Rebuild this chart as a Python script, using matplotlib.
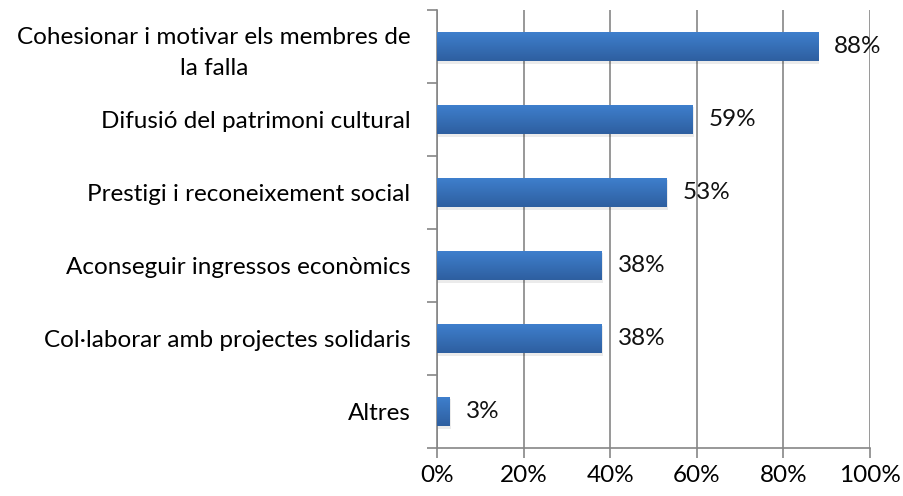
import matplotlib
matplotlib.use("Agg")
import matplotlib.pyplot as plt
import numpy as np

labels = [
    "Cohesionar i motivar els membres de\nla falla",
    "Difusió del patrimoni cultural",
    "Prestigi i reconeixement social",
    "Aconseguir ingressos econòmics",
    "Col·laborar amb projectes solidaris",
    "Altres",
]
values = [88, 59, 53, 38, 38, 3]
xticks = [0, 20, 40, 60, 80, 100]

plt.rcParams["font.family"] = ["Lato", "DejaVu Sans"]

GRID = "#868686"
TOP = np.array([0x3f, 0x80, 0xce]) / 255
BOT = np.array([0x2e, 0x5f, 0xa0]) / 255
FS = 17.5

fig = plt.figure(figsize=(9.04, 4.96), dpi=100)
ax = fig.add_axes([437 / 904, 48 / 496, 433 / 904, 438 / 496])

n = len(values)
ypos = np.arange(n)[::-1]
bars = ax.barh(ypos, values, height=0.41, color="#3a78c4", zorder=3)

# vertical gradient + soft shadow, like the office chart style
grad = np.linspace(0, 1, 64)[:, None, None] * (BOT - TOP) + TOP
for b in bars:
    x0, y0 = b.get_x(), b.get_y()
    w, h = b.get_width(), b.get_height()
    ax.add_patch(plt.Rectangle((x0 + 0.3, y0 - 0.04), w, h, color="#000000",
                               alpha=0.08, lw=0, zorder=2))
    im = ax.imshow(grad, extent=(x0, x0 + w, y0, y0 + h), aspect="auto",
                   origin="upper", zorder=4)
    im.set_clip_path(b)

for y, v in zip(ypos, values):
    ax.text(v + 3.7, y, f"{v}%", va="center", ha="left", fontsize=FS,
            color="#111111", zorder=5)

ax.set_xlim(0, 100)
ax.set_ylim(-0.5, n - 0.5)
ax.set_xticks(xticks)
ax.set_xticklabels([f"{t}%" for t in xticks], fontsize=FS)
ax.set_yticks(ypos)
ax.set_yticklabels(labels, fontsize=FS)
for t in ax.get_yticklabels():
    t.set_multialignment("center")
    t.set_linespacing(1.55)
ax.set_yticks(np.arange(-0.5, n, 1.0), minor=True)
ax.tick_params(axis="y", which="major", length=0, pad=19)
ax.tick_params(axis="y", which="minor", length=7, color=GRID, width=1.2)
ax.tick_params(axis="x", length=7, color=GRID, width=1.2, pad=5)

ax.grid(axis="x", color=GRID, lw=1.2, zorder=0)
for s in ["top", "right"]:
    ax.spines[s].set_visible(False)
for s in ["left", "bottom"]:
    ax.spines[s].set_color(GRID)
    ax.spines[s].set_linewidth(1.2)

fig.savefig("out.png", dpi=100)
